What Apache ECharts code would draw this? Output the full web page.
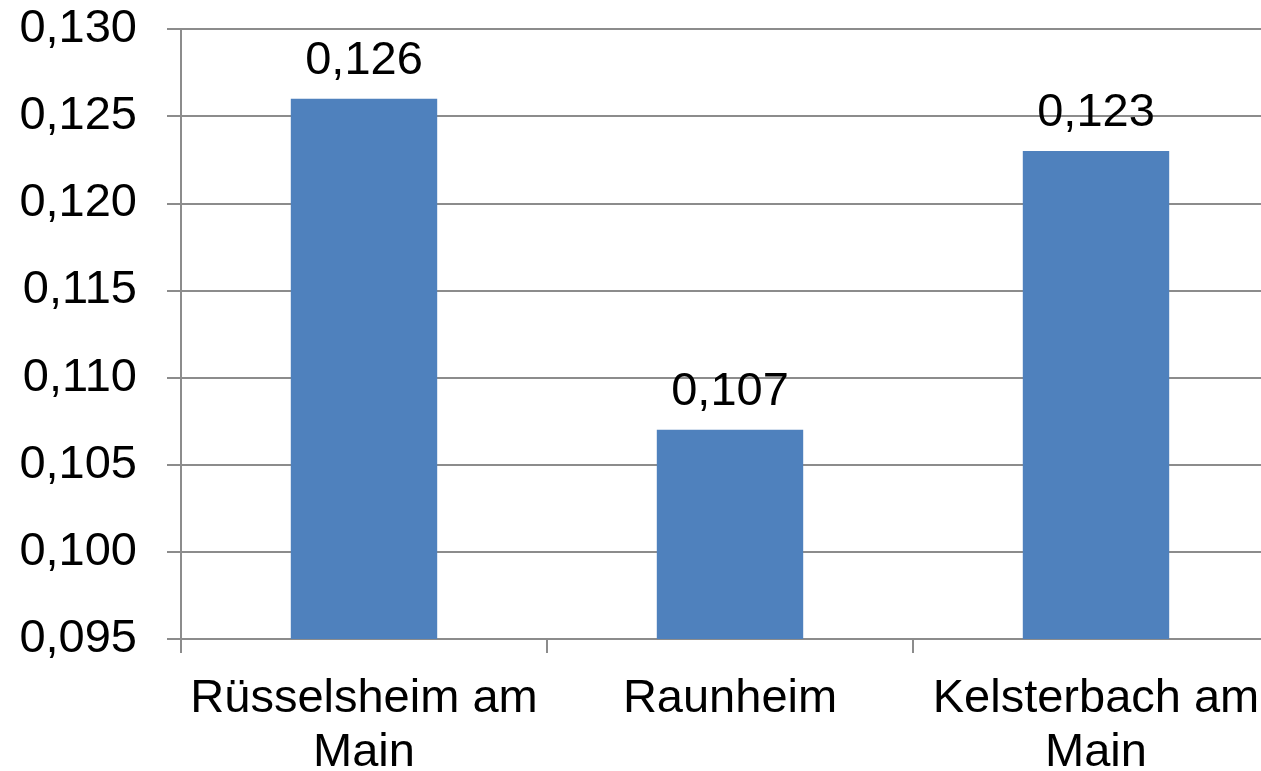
<!DOCTYPE html>
<html>
<head>
<meta charset="utf-8">
<script src="https://cdn.jsdelivr.net/npm/echarts@6/dist/echarts.min.js"></script>
<style>
  html, body { margin: 0; padding: 0; background: #ffffff; }
  #chart { width: 1261px; height: 771px; }
</style>
</head>
<body>
<div id="chart"></div>
<script>
// Städte und Werte
const categories = ['Rüsselsheim am Main', 'Raunheim', 'Kelsterbach am Main'];
const values = [0.126, 0.107, 0.123];

// y-Achse
const yMin = 0.095;
const yMax = 0.130;
const yStep = 0.005;

const FONT = '"Liberation Sans", Arial, sans-serif';
const fmt = v => Number(v).toFixed(3).replace('.', ',');

const chart = echarts.init(document.getElementById('chart'), null, { renderer: 'canvas' });
chart.setOption({
  animation: false,
  backgroundColor: '#ffffff',
  grid: { left: 181, top: 29, right: -18, bottom: 132, containLabel: false, outerBoundsMode: 'none' },
  xAxis: {
    type: 'category',
    data: categories,
    axisLine: { lineStyle: { color: '#8c8c8c', width: 2 } },
    axisTick: { show: true, length: 14, alignWithLabel: false, lineStyle: { color: '#8c8c8c', width: 2 } },
    axisLabel: {
      interval: 0,
      margin: 33,
      color: '#000000',
      fontFamily: FONT,
      fontSize: 47,
      lineHeight: 54,
      formatter: s => s.replace(' am Main', ' am\nMain')
    }
  },
  yAxis: {
    type: 'value',
    min: yMin,
    max: yMax,
    interval: yStep,
    axisLine: { show: true, lineStyle: { color: '#8c8c8c', width: 2 } },
    axisTick: { show: true, length: 14, lineStyle: { color: '#8c8c8c', width: 2 } },
    splitLine: { show: true, lineStyle: { color: '#8c8c8c', width: 2 } },
    axisLabel: {
      margin: 44,
      color: '#000000',
      fontFamily: FONT,
      fontSize: 47,
      formatter: fmt
    }
  },
  series: [{
    type: 'bar',
    data: values,
    barWidth: '40%',
    itemStyle: { color: '#4f81bd' },
    label: {
      show: true,
      position: 'top',
      distance: 14,
      color: '#000000',
      fontFamily: FONT,
      fontSize: 47,
      formatter: p => fmt(p.value)
    }
  }]
});
</script>
</body>
</html>
